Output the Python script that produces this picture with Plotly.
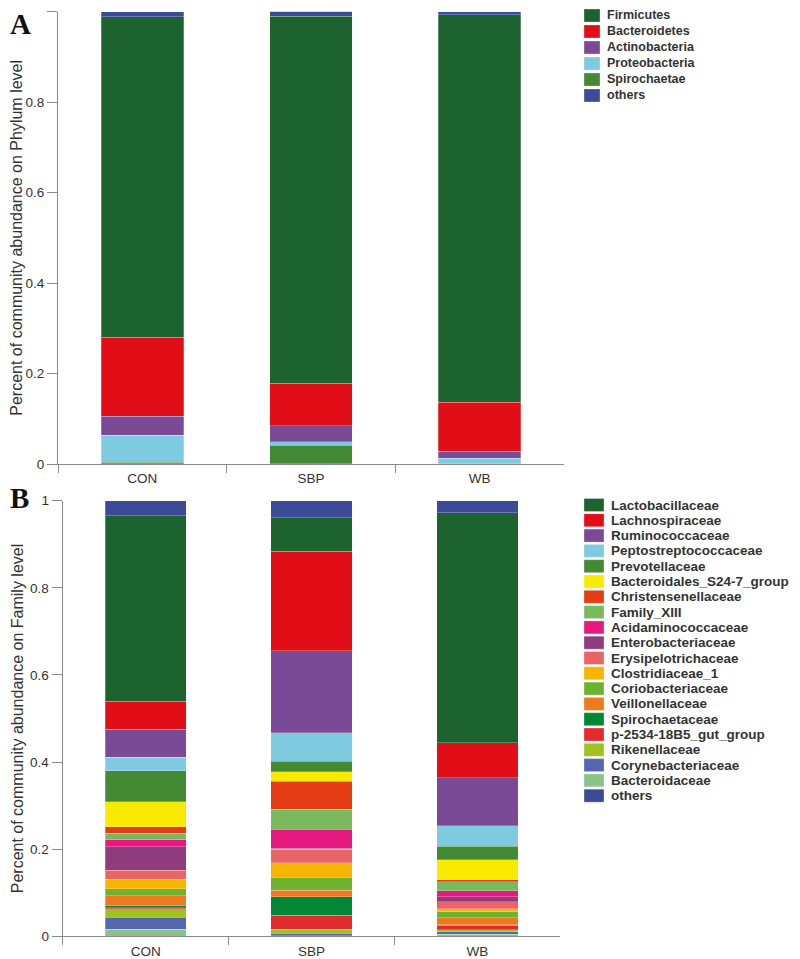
import plotly.graph_objects as go

groups = ["CON", "SBP", "WB"]

# Panel A: phylum level
phylum_names = ["Firmicutes", "Bacteroidetes", "Actinobacteria", "Proteobacteria", "Spirochaetae", "others"]
phylum_colors = ["#1d6330", "#e20e17", "#7b4a96", "#7ecbe1", "#448a35", "#3d4a98"]
phylum_values = {
    "Firmicutes":     [0.709, 0.812, 0.856],
    "Bacteroidetes":  [0.174, 0.093, 0.109],
    "Actinobacteria": [0.042, 0.036, 0.015],
    "Proteobacteria": [0.060, 0.008, 0.012],
    "Spirochaetae":   [0.004, 0.041, 0.001],
    "others":         [0.011, 0.011, 0.007],
}

# Panel B: family level
family_names = [
    "Lactobacillaceae", "Lachnospiraceae", "Ruminococcaceae", "Peptostreptococcaceae",
    "Prevotellaceae", "Bacteroidales_S24-7_group", "Christensenellaceae", "Family_XIII",
    "Acidaminococcaceae", "Enterobacteriaceae", "Erysipelotrichaceae", "Clostridiaceae_1",
    "Coriobacteriaceae", "Veillonellaceae", "Spirochaetaceae", "p-2534-18B5_gut_group",
    "Rikenellaceae", "Corynebacteriaceae", "Bacteroidaceae", "others",
]
family_colors = [
    "#1d6330", "#e20e17", "#7b4a96", "#7ecbe1", "#448a35", "#f9ea00", "#e43d16", "#7aba5d",
    "#e5197f", "#8f3d7e", "#ea6466", "#f8b500", "#6fb22e", "#ec7a1e", "#008837", "#e12b2e",
    "#a0c21e", "#5567ae", "#8cc38a", "#3d4a98",
]
family_values = {
    "Lactobacillaceae":          [0.4257, 0.0758, 0.5273],
    "Lachnospiraceae":           [0.0650, 0.2288, 0.0803],
    "Ruminococcaceae":           [0.0634, 0.1882, 0.1102],
    "Peptostreptococcaceae":     [0.0321, 0.0651, 0.0474],
    "Prevotellaceae":            [0.0705, 0.0252, 0.0307],
    "Bacteroidales_S24-7_group": [0.0573, 0.0207, 0.0459],
    "Christensenellaceae":       [0.0153, 0.0643, 0.0053],
    "Family_XIII":               [0.0146, 0.0459, 0.0207],
    "Acidaminococcaceae":        [0.0160, 0.0446, 0.0131],
    "Enterobacteriaceae":        [0.0536, 0.0020, 0.0122],
    "Erysipelotrichaceae":       [0.0207, 0.0314, 0.0153],
    "Clostridiaceae_1":          [0.0222, 0.0322, 0.0076],
    "Coriobacteriaceae":         [0.0160, 0.0298, 0.0130],
    "Veillonellaceae":           [0.0237, 0.0154, 0.0168],
    "Spirochaetaceae":           [0.0046, 0.0420, 0.0010],
    "p-2534-18B5_gut_group":     [0.0020, 0.0329, 0.0105],
    "Rikenellaceae":             [0.0194, 0.0091, 0.0046],
    "Corynebacteriaceae":        [0.0276, 0.0059, 0.0050],
    "Bacteroidaceae":            [0.0160, 0.0010, 0.0050],
    "others":                    [0.0343, 0.0397, 0.0282],
}

# page body has an 8px margin, so the figure is 8px smaller and coords are shifted
OFF = 8
W, H = 800 - OFF, 959 - OFF
px = lambda x: (x - OFF) / W
py = lambda y: 1 - (y - OFF) / H

FONT = "Arial, Liberation Sans"
fig = go.Figure()


# stack from bottom: last legend entry (before others) at the bottom, others on top
def add_stack(names, colors, values, xa, ya):
    order = list(range(len(names) - 1))[::-1] + [len(names) - 1]
    for i in order:
        fig.add_trace(go.Bar(
            x=groups, y=values[names[i]], name=names[i],
            marker=dict(color=colors[i], line=dict(color="rgba(255,255,255,0.5)", width=0.5)),
            xaxis=xa, yaxis=ya, showlegend=False,
        ))


add_stack(phylum_names, phylum_colors, phylum_values, "x", "y")
add_stack(family_names, family_colors, family_values, "x2", "y2")

axis_common = dict(showline=True, linecolor="#8a8a8a", linewidth=1.2, ticks="outside",
                   tickcolor="#8a8a8a", showgrid=False, zeroline=False,
                   tickfont=dict(family=FONT, size=13.5, color="#333333"))
x_common = dict(type="category", tickson="boundaries", ticklen=8, ticklabelstandoff=2, **axis_common)
y_common = dict(range=[0, 1], dtick=0.2, ticklen=10, **axis_common)
title_font = dict(family=FONT, size=16, color="#333333")

fig.update_layout(
    width=W, height=H, template="none", barmode="stack", bargap=0.51,
    margin=dict(l=0, r=0, t=0, b=0),
    paper_bgcolor="white", plot_bgcolor="white", showlegend=False,
    xaxis=dict(domain=[px(58), px(564)], anchor="y", **x_common),
    yaxis=dict(domain=[py(464), py(11.7)], anchor="x",
               title=dict(text="Percent of community abundance on Phylum level", standoff=2, font=title_font),
               **y_common),
    xaxis2=dict(domain=[px(62.7), px(560.3)], anchor="y2", **x_common),
    yaxis2=dict(domain=[py(936.3), py(500.7)], anchor="x2",
                title=dict(text="Percent of community abundance on Family level", standoff=2, font=title_font),
                **y_common),
)

# panel letters (kept inside the figure so they are not clipped)
for letter, x, y in [("A", 20, 24), ("B", 19, 498)]:
    fig.add_annotation(text="<b>" + letter + "</b>", x=px(x), y=py(y), xref="paper", yref="paper",
                       showarrow=False, xanchor="center", yanchor="middle",
                       font=dict(family="Liberation Serif, Times New Roman", size=29, color="#111111"))


# compact legends drawn as swatches + labels
def add_legend(names, colors, x0, y0, step, sw, sh, tx, size):
    for k, (n, c) in enumerate(zip(names, colors)):
        yc = y0 + k * step
        fig.add_shape(type="rect", xref="paper", yref="paper",
                      x0=px(x0), x1=px(x0 + sw), y0=py(yc - sh / 2), y1=py(yc + sh / 2),
                      fillcolor=c, line=dict(color="rgba(255,255,255,0.6)", width=0.5))
        fig.add_annotation(text="<b>" + n + "</b>", x=px(tx), y=py(yc), xref="paper", yref="paper",
                           showarrow=False, xanchor="left", yanchor="middle",
                           font=dict(family=FONT, size=size, color="#333333"))


add_legend(phylum_names, phylum_colors, 584, 15.5, 16, 16, 13, 605, 12.5)
add_legend(family_names, family_colors, 584, 505, 15.3, 20, 13, 609, 13.5)

fig.write_html("out.html")
